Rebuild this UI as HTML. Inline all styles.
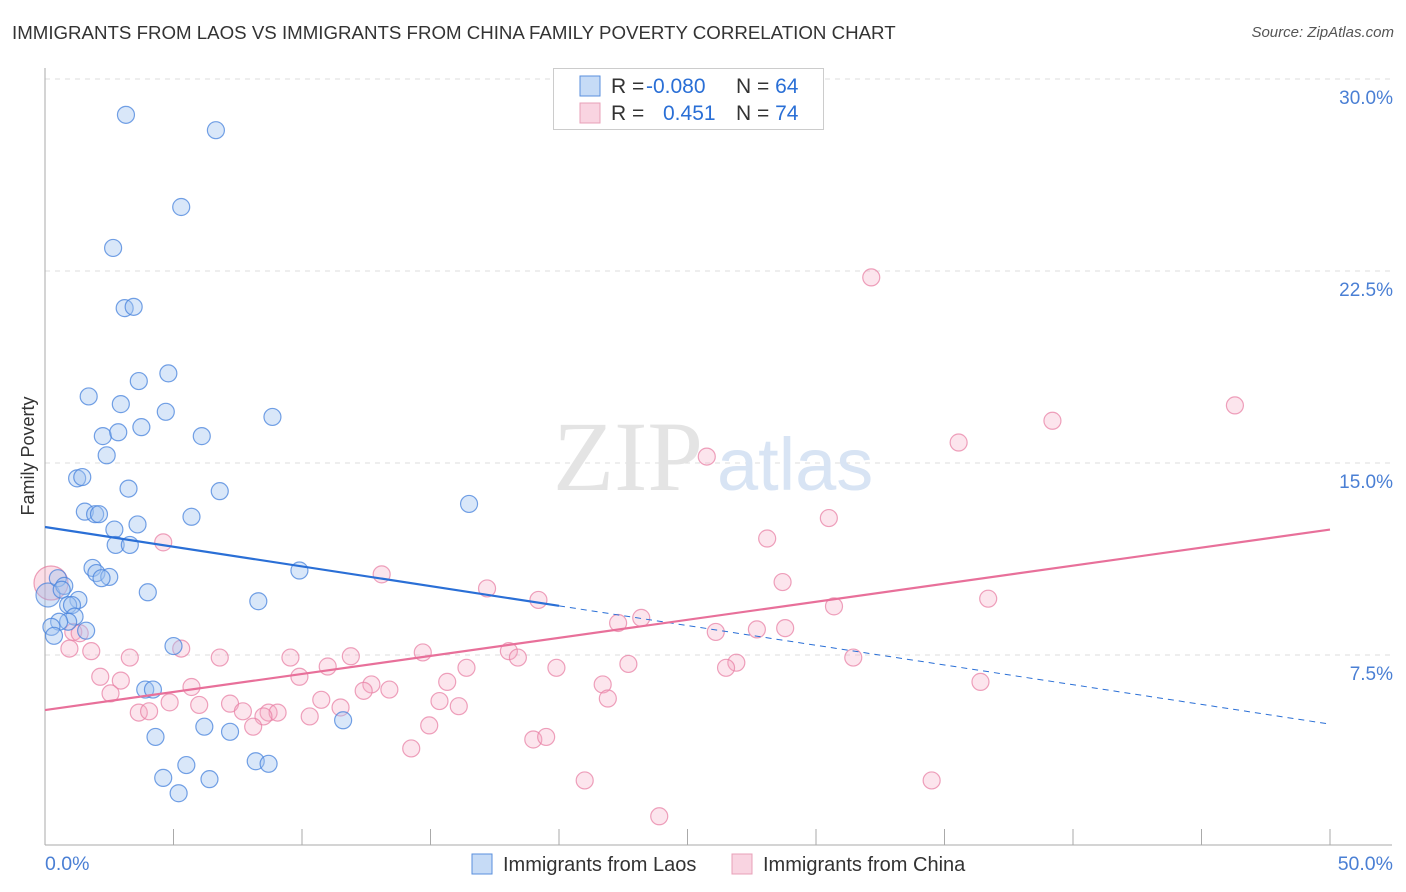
<!DOCTYPE html>
<html><head><meta charset="utf-8"><style>
body{margin:0;background:#fff;font-family:"Liberation Sans",sans-serif;}
#wrap{position:relative;width:1406px;height:892px;overflow:hidden;}
.t{position:absolute;white-space:nowrap;}
</style></head><body>
<div id="wrap">
<div class="t" style="left:12px;top:22px;font-size:18.7px;color:#333;">IMMIGRANTS FROM LAOS VS IMMIGRANTS FROM CHINA FAMILY POVERTY CORRELATION CHART</div>
<div class="t" style="right:12px;top:24px;font-size:15px;color:#555;font-style:italic;">Source: ZipAtlas.com</div>
<svg id="svg" width="1406" height="892" style="position:absolute;left:0;top:0"></svg>
</div>
<script>
const xTicks=[0,5,10,15,20,25,30,35,40,45,50];
const yTicks=[7.5,15,22.5,30];
const yTickLabels=["7.5%","15.0%","22.5%","30.0%"];
const laosX=[3.15,6.65,5.3,2.65,3.1,3.45,4.8,3.65,1.7,2.95,4.7,8.85,3.75,2.25,2.85,6.1,2.4,1.25,1.45,3.25,6.8,16.5,1.55,1.95,2.1,5.7,3.6,2.7,2.75,3.3,1.85,2.0,2.5,2.2,9.9,0.5,0.75,0.65,4.0,1.3,0.9,1.05,8.3,1.15,0.9,0.55,0.25,1.6,0.35,5.0,3.9,4.2,11.6,6.2,7.2,4.3,8.2,8.7,5.5,4.6,6.4,5.2];
const laosY=[28.6,28.0,25.0,23.4,21.05,21.1,18.5,18.2,17.6,17.3,17.0,16.8,16.4,16.05,16.2,16.05,15.3,14.4,14.45,14.0,13.9,13.4,13.1,13.0,13.0,12.9,12.6,12.4,11.8,11.8,10.9,10.7,10.55,10.5,10.8,10.5,10.2,10.05,9.95,9.65,9.45,9.45,9.6,9.0,8.8,8.8,8.6,8.45,8.25,7.85,6.15,6.15,4.95,4.7,4.5,4.3,3.35,3.25,3.2,2.7,2.65,2.1];
const chinaX=[32.15,46.3,39.2,35.55,25.75,30.5,28.1,4.6,13.1,28.7,17.2,19.2,36.7,30.7,23.2,22.3,26.1,27.7,28.8,1.1,1.35,0.95,1.8,5.3,3.3,6.8,9.55,11.9,14.7,18.05,18.4,11.0,16.4,19.9,22.7,26.9,26.5,31.45,9.9,2.15,2.95,15.65,36.4,12.7,13.4,12.4,5.7,21.7,2.55,10.75,15.35,21.9,4.85,6.0,7.2,11.5,16.1,7.7,8.7,9.05,3.65,4.05,10.3,8.5,8.1,14.95,19.0,19.5,14.25,21.0,34.5,23.9];
const chinaY=[22.25,17.25,16.65,15.8,15.25,12.85,12.05,11.9,10.65,10.35,10.1,9.65,9.7,9.4,8.95,8.75,8.4,8.5,8.55,8.4,8.35,7.75,7.65,7.75,7.4,7.4,7.4,7.45,7.6,7.65,7.4,7.05,7.0,7.0,7.15,7.2,7.0,7.4,6.65,6.65,6.5,6.45,6.45,6.35,6.15,6.1,6.25,6.35,6.0,5.75,5.7,5.8,5.65,5.55,5.6,5.45,5.5,5.3,5.25,5.25,5.25,5.3,5.1,5.1,4.7,4.75,4.2,4.3,3.85,2.6,2.6,1.2];
const laosTrend=[12.5,4.8];
const chinaTrend=[5.35,12.4];
const X=v=>45+v*25.7, Y=v=>847-v*25.6;
const svg=document.getElementById('svg');const NS='http://www.w3.org/2000/svg';
function el(tag,attrs,parent){const e=document.createElementNS(NS,tag);for(const k in attrs)e.setAttribute(k,attrs[k]);(parent||svg).appendChild(e);return e;}
yTicks.forEach((v,i)=>{
 const g=el('line',{x1:45,x2:1392,y1:Y(v),y2:Y(v),stroke:'#ddd','stroke-dasharray':'5,5'});
 
 
 const t=el('text',{x:1393,y:Y(v)+25,'text-anchor':'end','font-size':19,fill:'#4a7fd4'});t.textContent=yTickLabels[i];
 
 
});
const ax=el('line',{x1:45,x2:1392,y1:845,y2:845,stroke:'#aaa'});


const ay=el('line',{x1:45,x2:45,y1:68,y2:845,stroke:'#aaa'});


xTicks.forEach(v=>{const t=el('line',{x1:X(v),x2:X(v),y1:829,y2:845,stroke:'#aaa'});
 
 });
const w=el('text',{x:553,y:490,'font-size':100,fill:'#e4e4e4','font-family':'Liberation Serif'});w.textContent='ZIP';


const w2=el('text',{x:717,y:490,'font-size':74,fill:'#d8e4f4'});w2.textContent='atlas';


const b1=el('circle',{cx:51,cy:583,r:17,fill:'rgba(244,160,185,0.35)',stroke:'rgba(230,120,155,0.7)','stroke-width':1.2});


const b2=el('circle',{cx:48,cy:595,r:12,fill:'rgba(150,185,235,0.4)',stroke:'rgba(70,130,220,0.7)','stroke-width':1.2});


chinaX.forEach((x,i)=>{const c=el('circle',{cx:X(x),cy:Y(chinaY[i]),r:8.5,fill:'rgba(244,170,195,0.3)',stroke:'rgba(232,130,165,0.75)','stroke-width':1.2});
 
 });
laosX.forEach((x,i)=>{const c=el('circle',{cx:X(x),cy:Y(laosY[i]),r:8.5,fill:'rgba(160,195,240,0.4)',stroke:'rgba(70,130,220,0.75)','stroke-width':1.2});
 
 });
const ly=x=>laosTrend[0]+(laosTrend[1]-laosTrend[0])*x/50;
const t1=el('line',{x1:X(0),y1:Y(ly(0)),x2:X(20),y2:Y(ly(20)),stroke:'#2a6fd6','stroke-width':2.2});


const t2=el('line',{x1:X(20),y1:Y(ly(20)),x2:X(50),y2:Y(ly(50)),stroke:'#2a6fd6','stroke-width':1,'stroke-dasharray':'6,5'});


const t3=el('line',{x1:X(0),y1:Y(chinaTrend[0]),x2:X(50),y2:Y(chinaTrend[1]),stroke:'#e8709a','stroke-width':2.2});


const xl=el('text',{x:45,y:870,'font-size':19.5,fill:'#4a7fd4'});xl.textContent='0.0%';


const xr=el('text',{x:1393,y:870,'text-anchor':'end','font-size':19.5,fill:'#4a7fd4'});xr.textContent='50.0%';


const yt=el('text',{x:34,y:456,'text-anchor':'middle','font-size':18,fill:'#333',transform:'rotate(-90 34 456)'});yt.textContent='Family Poverty';


const lb=el('rect',{x:553.5,y:68.5,width:270,height:61,fill:'#fff',stroke:'#ccc'});


[[0,'rgba(160,195,240,0.6)','#5a8fdd','-0.080','64'],[1,'rgba(244,170,195,0.5)','#e8a0b8','0.451','74']].forEach(r=>{
 const y=86+r[0]*27;
 const s=el('rect',{x:580,y:y-10,width:20,height:20,fill:r[1],stroke:r[2]});
 
 
 const t=el('text',{x:611,y:y+7,'font-size':21,fill:'#333'});
 t.innerHTML='R = <tspan fill="#2a6fd6" x="'+(r[0]?663:646)+'">'+r[3]+'</tspan><tspan x="736" fill="#333">N = </tspan><tspan fill="#2a6fd6">'+r[4]+'</tspan>';
 
 
});
[[472,'rgba(160,195,240,0.6)','#5a8fdd','Immigrants from Laos'],[732,'rgba(244,170,195,0.5)','#e8a0b8','Immigrants from China']].forEach(r=>{
 const s=el('rect',{x:r[0],y:854,width:20,height:20,fill:r[1],stroke:r[2]});
 
 
 const t=el('text',{x:r[0]+31,y:871,'font-size':20,fill:'#333'});t.textContent=r[3];
 
 
});
</script>
</body></html>
